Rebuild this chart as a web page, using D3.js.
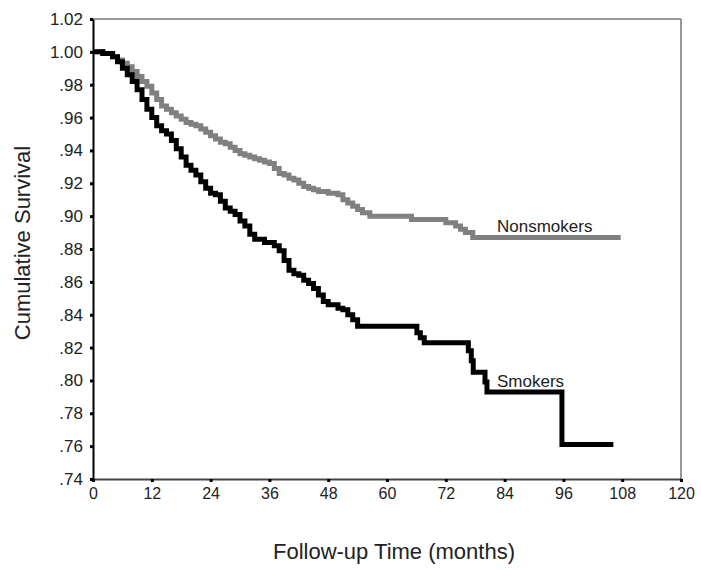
<!DOCTYPE html>
<html>
<head>
<meta charset="utf-8">
<script src="https://cdn.jsdelivr.net/npm/d3@7"></script>
<style>
  body { margin: 0; background: #fff; }
  svg { display: block; font-family: "Liberation Sans", Arial, sans-serif; }
</style>
</head>
<body>
<svg id="chart" width="701" height="570"></svg>
<script>
// Kaplan-Meier steps (months, cumulative survival)
const nonsmokerMonths = [0, 2, 4, 5, 6, 7, 8, 9, 10, 11, 12, 13, 14, 15, 16, 17, 18, 19, 20, 21, 22, 23, 24, 25, 26, 27, 28, 29, 30, 31, 32, 33, 34, 35, 36, 37, 38, 39, 40, 41, 42, 43, 44, 45, 46, 48, 50, 51, 52, 53, 54, 55, 56.5, 65, 72, 74, 75, 76, 77.5, 107.7];
const nonsmokerSurvival = [1.000, 0.999, 0.997, 0.995, 0.993, 0.991, 0.988, 0.985, 0.982, 0.979, 0.975, 0.971, 0.967, 0.965, 0.963, 0.961, 0.959, 0.957, 0.956, 0.955, 0.953, 0.951, 0.949, 0.947, 0.945, 0.944, 0.942, 0.940, 0.938, 0.937, 0.936, 0.935, 0.934, 0.933, 0.932, 0.929, 0.926, 0.925, 0.923, 0.922, 0.920, 0.918, 0.917, 0.916, 0.915, 0.914, 0.913, 0.910, 0.908, 0.906, 0.904, 0.902, 0.900, 0.898, 0.896, 0.894, 0.892, 0.890, 0.887, 0.887];

const smokerMonths = [0, 2, 4, 5, 6, 7, 8, 9, 10, 11, 12, 13, 14, 15, 16, 17, 18, 19, 20, 21, 22, 23, 24, 25, 26, 27, 28, 29, 30, 31, 32, 33, 35, 37, 38, 39, 40, 41, 42, 43, 44, 45, 46, 47, 48, 50, 51, 52, 53, 54, 66.1, 66.8, 67.6, 76.6, 77.2, 77.6, 80.0, 80.4, 95.7, 106.2];
const smokerSurvival = [1.000, 0.999, 0.997, 0.994, 0.990, 0.986, 0.982, 0.977, 0.971, 0.965, 0.960, 0.955, 0.952, 0.950, 0.946, 0.941, 0.936, 0.931, 0.928, 0.925, 0.921, 0.917, 0.914, 0.913, 0.909, 0.905, 0.903, 0.901, 0.897, 0.894, 0.889, 0.886, 0.884, 0.882, 0.879, 0.873, 0.867, 0.865, 0.864, 0.861, 0.859, 0.856, 0.852, 0.848, 0.846, 0.844, 0.843, 0.840, 0.837, 0.833, 0.829, 0.826, 0.823, 0.818, 0.812, 0.805, 0.799, 0.793, 0.761, 0.761];

const xTicks = [0, 12, 24, 36, 48, 60, 72, 84, 96, 108, 120];
const yTicks = [0.74, 0.76, 0.78, 0.80, 0.82, 0.84, 0.86, 0.88, 0.90, 0.92, 0.94, 0.96, 0.98, 1.00, 1.02];

const svg = d3.select("#chart"),
      margin = {top: 19, right: 20, bottom: 91, left: 93},
      width = +svg.attr("width"),
      height = +svg.attr("height");

const x = d3.scaleLinear()
    .domain([0, 120])
    .range([margin.left, 681]);

const y = d3.scaleLinear()
    .domain([0.74, 1.02])
    .range([479, margin.top]);

const fmtY = v => d3.format(".2f")(v).replace(/^0/, "");

// frame lines on top and right
svg.append("line")
    .attr("x1", x(0)).attr("x2", x(120))
    .attr("y1", y(1.02)).attr("y2", y(1.02))
    .attr("stroke", "#777").attr("stroke-width", 1.5);
svg.append("line")
    .attr("x1", x(120)).attr("x2", x(120))
    .attr("y1", y(1.02)).attr("y2", y(0.74))
    .attr("stroke", "#777").attr("stroke-width", 1.5);

// axes
const yAxis = svg.append("g")
    .attr("transform", `translate(${x(0)},0)`)
    .call(d3.axisLeft(y).tickValues(yTicks).tickFormat(fmtY).tickSizeInner(3).tickSizeOuter(0).tickPadding(7));
yAxis.select(".domain").attr("stroke", "#000").attr("stroke-width", 2);
yAxis.selectAll(".tick line").attr("stroke-width", 3);
yAxis.selectAll("text").attr("font-size", 17).attr("fill", "#222").attr("font-family", null);

const xAxis = svg.append("g")
    .attr("transform", `translate(0,${y(0.74)})`)
    .call(d3.axisBottom(x).tickValues(xTicks).tickSizeInner(3).tickSizeOuter(0).tickPadding(6));
xAxis.select(".domain").attr("stroke", "#444").attr("stroke-width", 2);
xAxis.selectAll(".tick line").attr("stroke-width", 3);
xAxis.selectAll("text").attr("font-size", 16).attr("fill", "#222").attr("font-family", null);

// survival curves
const nonsmokers = nonsmokerMonths.map((m, i) => ({m: m, s: nonsmokerSurvival[i]}));
const smokers = smokerMonths.map((m, i) => ({m: m, s: smokerSurvival[i]}));

const line = d3.line()
    .x(d => x(d.m))
    .y(d => y(d.s))
    .curve(d3.curveStepAfter);

svg.append("path")
    .datum(nonsmokers)
    .attr("fill", "none")
    .attr("stroke", "#808080")
    .attr("stroke-width", 5)
    .attr("d", line);

svg.append("path")
    .datum(smokers)
    .attr("fill", "none")
    .attr("stroke", "#000")
    .attr("stroke-width", 5)
    .attr("d", line);

// curve labels
svg.append("text")
    .attr("x", 497).attr("y", 232)
    .attr("font-size", 17).attr("fill", "#222")
    .text("Nonsmokers");
svg.append("text")
    .attr("x", 497).attr("y", 387)
    .attr("font-size", 17).attr("fill", "#222")
    .text("Smokers");

// axis titles
svg.append("text")
    .attr("x", 394).attr("y", 559)
    .attr("text-anchor", "middle")
    .attr("font-size", 22).attr("fill", "#222")
    .text("Follow-up Time (months)");
svg.append("text")
    .attr("transform", "translate(30,243) rotate(-90)")
    .attr("text-anchor", "middle")
    .attr("font-size", 22).attr("fill", "#222")
    .text("Cumulative Survival");
</script>
</body>
</html>
